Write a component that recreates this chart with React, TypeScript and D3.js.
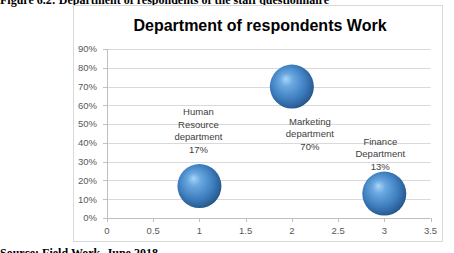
import React from "react";
import * as d3 from "d3";

const categories = ["Human Resource department", "Marketing department", "Finance Department"];
const xValues = [1, 2, 3];
const yValues = [0.17, 0.7, 0.13];
const labelLines = [
  ["Human", "Resource", "department", "17%"],
  ["Marketing", "department", "70%"],
  ["Finance", "Department", "13%"],
];
const xTicks = [0, 0.5, 1, 1.5, 2, 2.5, 3, 3.5];
const yTicks = [0, 0.1, 0.2, 0.3, 0.4, 0.5, 0.6, 0.7, 0.8, 0.9];
const title = "Department of respondents Work";
const caption = "Figure 6.2: Department of respondents of the staff questionnaire";
const source = "Source: Field Work, June 2018";

// label placement (style): offset of first line center from bubble center
const labelFirstDy = [-74, 35, -52];

export default function App() {
  const W = 454, H = 253;
  const x = d3.scaleLinear().domain([0, 3.5]).range([107, 430.5]);
  const y = d3.scaleLinear().domain([0, 0.9]).range([218, 49]);
  const r = 22;
  const lh = 12.4;
  const fmt = d3.format(".0%");
  const labFont = "'Liberation Sans', Arial, sans-serif";

  return (
    <svg width={W} height={H} style={{ position: "absolute", left: 0, top: 0, background: "#fff" }}>
      <defs>
        <radialGradient id="ball" cx="0.45" cy="0.45" r="0.6" fx="0.36" fy="0.32">
          <stop offset="0%" stopColor="#a9d6f6" />
          <stop offset="25%" stopColor="#6aa8e0" />
          <stop offset="65%" stopColor="#3f7fc0" />
          <stop offset="90%" stopColor="#2a5f96" />
          <stop offset="100%" stopColor="#1b4470" />
        </radialGradient>
      </defs>
      <text x={0} y={4} fontFamily="'Liberation Serif', 'Times New Roman', serif" fontWeight="bold" fontSize={12} fill="#000">
        {caption}
      </text>
      <rect x={73.5} y={5.5} width={369} height={236} fill="#fff" stroke="#d9d9d9" strokeWidth={1} />
      <text x={260} y={31} textAnchor="middle" fontFamily={labFont} fontWeight="bold" fontSize={16} fill="#000">
        {title}
      </text>
      {yTicks.map((t) => (
        <g key={"y" + t}>
          <line x1={107} x2={430.5} y1={Math.round(y(t)) + 0.5} y2={Math.round(y(t)) + 0.5} stroke={t === 0 ? "#bfbfbf" : "#d9d9d9"} />
          <line x1={103} x2={107} y1={Math.round(y(t)) + 0.5} y2={Math.round(y(t)) + 0.5} stroke="#bfbfbf" />
          <text x={97} y={y(t)} dy="0.35em" textAnchor="end" fontFamily={labFont} fontSize={9.5} fill="#595959">
            {fmt(t)}
          </text>
        </g>
      ))}
      <line x1={107.5} x2={107.5} y1={y(0.9)} y2={y(0) + 4} stroke="#bfbfbf" />
      {xTicks.map((t) => (
        <g key={"x" + t}>
          <line x1={Math.round(x(t)) + 0.5} x2={Math.round(x(t)) + 0.5} y1={218} y2={222} stroke="#bfbfbf" />
          <text x={x(t)} y={231} dy="0.35em" textAnchor="middle" fontFamily={labFont} fontSize={9.5} fill="#595959">
            {String(t)}
          </text>
        </g>
      ))}
      {categories.map((c, i) => (
        <circle key={c} cx={x(xValues[i])} cy={y(yValues[i])} r={r} fill="url(#ball)" />
      ))}
      {categories.map((c, i) => (
        <text key={"l" + c} textAnchor="middle" fontFamily={labFont} fontSize={9.5} fill="#404040">
          {labelLines[i].map((ln, j) => (
            <tspan key={j} x={x(xValues[i]) + (i === 1 ? 18 : i === 2 ? -4 : -1)} y={y(yValues[i]) + labelFirstDy[i] + j * lh} dy="0.35em">
              {ln}
            </tspan>
          ))}
        </text>
      ))}
      <text x={0} y={257} fontFamily="'Liberation Serif', 'Times New Roman', serif" fontWeight="bold" fontSize={12} fill="#000">
        {source}
      </text>
    </svg>
  );
}
